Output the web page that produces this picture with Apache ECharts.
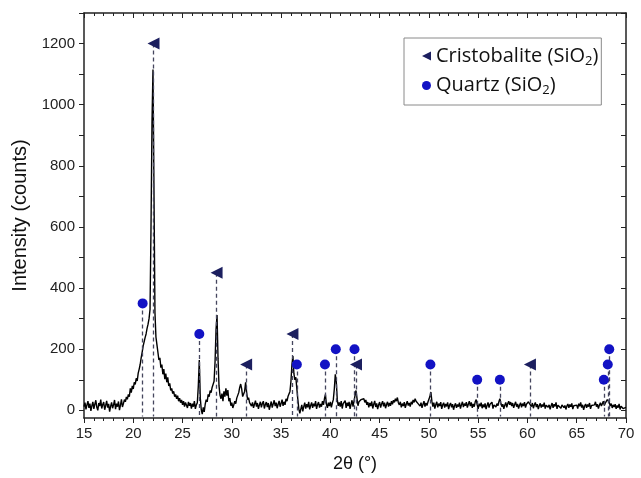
<!DOCTYPE html>
<html>
<head>
<meta charset="utf-8">
<script src="https://cdn.jsdelivr.net/npm/echarts@6/dist/echarts.min.js"></script>
<style>html,body{margin:0;padding:0;background:#fff}#c{width:641px;height:478px}</style>
</head>
<body>
<div id="c"></div>
<script>
// 2θ scan: start angle and instrument step (degrees)
const scanStart = 15.0;
const scanStep = 0.1;
// Intensity (counts), one row per degree from 15 to 69, then 70
const intensity = [
12,25,3,18,30,8,22,-2,15,28,
5,20,33,10,0,24,14,35,6,19,
27,2,16,31,9,21,-4,13,26,7,
18,34,4,22,12,29,1,17,36,11,
22,35,28,44,36,52,45,72,58,80,
70,92,85,105,96,122,135,150,172,190,
210,205,238,250,268,282,300,330,600,940,
1115,720,320,240,215,190,165,172,140,150,
118,135,102,120,92,108,80,88,65,72,
55,62,45,52,38,48,30,40,25,34,
18,30,12,26,20,8,28,15,24,6,
22,12,30,5,18,25,80,165,40,2,
-12,10,-5,20,35,28,52,45,65,58,
75,70,95,160,265,312,170,80,50,38,
55,30,62,45,72,48,66,30,40,15,
25,8,18,30,22,40,35,58,75,86,
70,45,40,62,92,60,35,42,25,30,
14,26,8,20,32,12,24,5,18,28,
10,22,30,6,19,27,11,24,2,16,
29,9,21,33,14,25,7,20,31,12,
23,35,15,28,18,38,30,45,40,62,
95,150,178,120,100,108,70,35,5,-10,
4,18,-3,12,25,6,20,10,28,3,
16,26,8,22,13,30,5,19,27,9,
21,12,30,18,38,52,20,8,25,14,
28,10,24,35,70,118,95,35,15,26,
12,30,6,22,17,32,8,25,14,28,
5,20,33,12,30,48,65,40,15,28,
22,35,40,32,38,26,34,18,27,10,
24,14,29,6,20,31,11,23,4,18,
27,9,21,30,13,25,7,19,28,12,
24,15,30,20,33,26,38,30,42,25,
18,28,10,22,14,27,8,20,30,16,
24,12,28,20,34,26,38,30,35,22,
28,14,25,8,20,30,12,24,16,27,
22,45,60,30,12,25,6,19,28,10,
22,14,27,5,18,25,9,21,13,26,
4,17,24,10,20,2,15,23,8,19,
12,25,6,18,28,11,22,15,27,9,
20,30,14,26,8,21,12,28,35,18,
5,22,13,25,7,19,10,23,4,16,
26,9,20,14,27,6,18,24,11,22,
15,28,38,24,12,20,5,17,26,10,
22,30,18,27,14,24,8,19,28,12,
21,6,17,25,10,22,14,27,9,20,
16,28,34,22,12,24,7,18,26,11,
20,4,16,23,9,19,12,25,6,17,
22,10,18,3,15,24,8,20,13,26,
5,17,11,22,7,18,24,9,16,3,
14,21,8,19,12,23,4,15,20,10,
17,6,22,13,26,9,18,2,14,21,
8,19,12,24,5,16,22,10,18,28,
12,20,6,17,25,14,22,30,16,24,
28,35,40,26,14,22,8,18,11,20,
5,16,9,21,3,14,18,6,12,2,
10
];

// Phase markers: peak positions (2θ) and marker heights (counts)
const cristobaliteAngles = [22.05, 28.45, 31.45, 36.15, 42.6, 60.25];
const cristobaliteLevels = [1200, 450, 150, 250, 150, 150];
const quartzAngles = [20.95, 26.7, 36.6, 39.45, 40.55, 42.45, 50.15, 54.9, 57.2, 67.75, 68.15, 68.3];
const quartzLevels = [350, 250, 150, 150, 200, 200, 150, 100, 100, 100, 150, 200];

const yLabelValues = [0, 200, 400, 600, 800, 1000, 1200];
const yTickValues = [0, 100, 200, 300, 400, 500, 600, 700, 800, 900, 1000, 1100, 1200, 1300];

const yMin = -25, yMax = 1300, dropEnd = -20;

const curve = intensity.map((v, i) => [+(scanStart + i * scanStep).toFixed(2), v]);
const cristData = cristobaliteAngles.map((a, i) => [a, cristobaliteLevels[i]]);
const quartzData = quartzAngles.map((a, i) => [a, quartzLevels[i]]);
const drops = cristData.concat(quartzData).map(p => [{coord: [p[0], p[1]]}, {coord: [p[0], dropEnd]}]);

const font = 'Liberation Sans, Arial, sans-serif';
const legendFont = 'Open Sans, sans-serif';
const chart = echarts.init(document.getElementById('c'), null, {renderer: 'canvas'});
chart.setOption({
  animation: false,
  backgroundColor: '#fff',
  grid: {left: 84, right: 15, top: 13, bottom: 60},
  legend: {
    left: 404, top: 38, orient: 'vertical',
    data: [
      {name: 'Cristobalite', icon: 'path://M10,0 L10,10 L0,5 Z', itemStyle: {color: '#1c1f5f'}},
      {name: 'Quartz', icon: 'circle', itemStyle: {color: '#1212c4'}}
    ],
    backgroundColor: '#fff',
    borderColor: '#8a8a8a', borderWidth: 1,
    padding: [8, 3, 8, 18],
    itemGap: 8, itemWidth: 9, itemHeight: 9,
    formatter: function (n) { return n + ' (SiO{s|2})'; },
    textStyle: {
      fontFamily: legendFont, fontSize: 20, color: '#111',
      rich: {s: {fontFamily: legendFont, fontSize: 13, color: '#111', verticalAlign: 'bottom', padding: [10, 0, 0, 0]}}
    }
  },
  xAxis: [{
    type: 'value', min: 15, max: 70, interval: 5, position: 'bottom',
    name: '2θ (°)', nameLocation: 'middle', nameGap: 37,
    nameTextStyle: {fontFamily: font, fontSize: 18, color: '#111'},
    axisLine: {show: true, onZero: false, lineStyle: {color: '#222', width: 1.5}},
    axisTick: {show: true, inside: false, length: 5, lineStyle: {color: '#222'}},
    minorTick: {show: true, splitNumber: 5, length: 3, lineStyle: {color: '#222'}},
    axisLabel: {fontFamily: font, fontSize: 15, color: '#222', margin: 8},
    splitLine: {show: false}
  }, {
    type: 'value', min: 15, max: 70, interval: 5, position: 'top',
    axisLine: {show: true, onZero: false, lineStyle: {color: '#222', width: 1.5}},
    axisTick: {show: true, inside: true, length: 5, lineStyle: {color: '#222'}},
    minorTick: {show: true, splitNumber: 5, length: 3, lineStyle: {color: '#222'}},
    axisLabel: {show: false}, splitLine: {show: false}
  }],
  yAxis: [{
    type: 'value', min: yMin, max: yMax, position: 'left',
    name: 'Intensity (counts)', nameLocation: 'middle', nameGap: 51, nameRotate: 90,
    nameTextStyle: {fontFamily: font, fontSize: 20, color: '#111'},
    axisLine: {show: true, onZero: false, lineStyle: {color: '#222', width: 1.5}},
    axisTick: {show: true, inside: false, length: 5, customValues: yTickValues, lineStyle: {color: '#222'}},
    axisLabel: {fontFamily: font, fontSize: 15, color: '#222', margin: 9, customValues: yLabelValues,
      formatter: function (v) { return String(v); }},
    splitLine: {show: false}
  }, {
    type: 'value', min: yMin, max: yMax, position: 'right',
    axisLine: {show: true, onZero: false, lineStyle: {color: '#222', width: 1.5}},
    axisTick: {show: true, inside: true, length: 5, customValues: yTickValues, lineStyle: {color: '#222'}},
    axisLabel: {show: false}, splitLine: {show: false}
  }],
  series: [{
    name: 'XRD', type: 'line', data: curve, showSymbol: false, symbol: 'none',
    lineStyle: {color: '#000', width: 1.4}, z: 2, silent: true
  }, {
    name: 'drops', type: 'line', data: [], z: 3, silent: true,
    markLine: {
      silent: true, symbol: ['none', 'none'], label: {show: false},
      lineStyle: {type: [4, 3], color: '#45465e', width: 1.3},
      data: drops
    }
  }, {
    name: 'Cristobalite', type: 'scatter', data: cristData, symbol: 'triangle', symbolRotate: 90,
    symbolSize: 12, itemStyle: {color: '#1c1f5f', opacity: 1}, z: 5
  }, {
    name: 'Quartz', type: 'scatter', data: quartzData, symbol: 'circle',
    symbolSize: 10, itemStyle: {color: '#1212c4', opacity: 1}, z: 5
  }]
});
</script>
</body>
</html>
